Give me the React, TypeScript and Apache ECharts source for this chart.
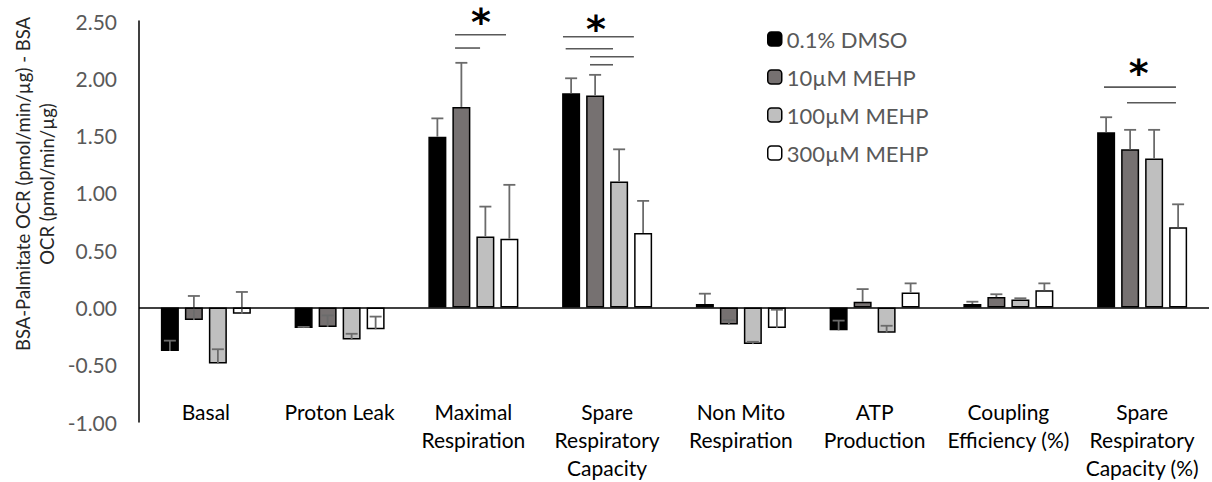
import React, { useEffect, useRef } from "react";
import * as echarts from "echarts";

const categories = [
  "Basal",
  "Proton Leak",
  "Maximal\nRespiration",
  "Spare\nRespiratory\nCapacity",
  "Non Mito\nRespiration",
  "ATP\nProduction",
  "Coupling\nEfficiency (%)",
  "Spare\nRespiratory\nCapacity (%)",
];

const seriesNames = ["0.1% DMSO", "10µM MEHP", "100µM MEHP", "300µM MEHP"];

const dmso = [-0.38, -0.18, 1.49, 1.87, 0.03, -0.2, 0.03, 1.53];
const dmsoErr = [0.09, 0.01, 0.16, 0.13, 0.09, 0.085, 0.02, 0.13];
const mehp10 = [-0.11, -0.17, 1.75, 1.85, -0.15, 0.05, 0.09, 1.38];
const mehp10Err = [0.21, 0.1, 0.385, 0.18, 0.04, 0.11, 0.025, 0.17];
const mehp100 = [-0.49, -0.28, 0.62, 1.1, -0.32, -0.22, 0.07, 1.3];
const mehp100Err = [0.125, 0.05, 0.26, 0.28, 0.02, 0.06, 0.01, 0.25];
const mehp300 = [-0.055, -0.19, 0.6, 0.65, -0.18, 0.13, 0.15, 0.7];
const mehp300Err = [0.19, 0.11, 0.47, 0.28, 0.16, 0.08, 0.06, 0.2];

const yTicks = { min: -1, max: 2.5, interval: 0.5 };

// significance brackets: [xStart, xEnd, y] in category units (0..8) and y value
const sigLines = [
  [2.363, 2.744, 2.38],
  [2.363, 2.55, 2.264],
  [3.17, 3.7, 2.363],
  [3.19, 3.544, 2.258],
  [3.372, 3.7, 2.188],
  [3.372, 3.544, 2.118],
  [7.215, 7.753, 1.923],
  [7.387, 7.753, 1.786],
];
// asterisk positions: [x, y]
const stars = [
  [2.557, 2.548],
  [3.417, 2.483],
  [7.474, 2.096],
];

const values = [dmso, mehp10, mehp100, mehp300];
const errors = [dmsoErr, mehp10Err, mehp100Err, mehp300Err];
const fills = ["#000000", "#767171", "#BFBFBF", "#FFFFFF"];

const FONT = "Lato";
const BAR_W = 18;
const GAP = 0.3333;
const PITCH = BAR_W * (1 + GAP);
const ERR_COLOR = "#6b6b6b";

export default function App() {
  const ref = useRef<HTMLDivElement>(null);
  useEffect(() => {
    if (!ref.current) return;
    const chart = echarts.init(ref.current, null, { renderer: "svg" });

    const barSeries = values.map((vals, i) => ({
      type: "bar",
      name: seriesNames[i],
      xAxisIndex: 0,
      yAxisIndex: 0,
      data: vals,
      barWidth: BAR_W,
      barGap: `${GAP * 100}%`,
      itemStyle: { color: fills[i], borderColor: "#000", borderWidth: 1.5 },
      emphasis: { disabled: true },
      ...(i === 0
        ? {
            markLine: {
              silent: true,
              symbol: ["none", "none"],
              label: { show: false },
              lineStyle: { color: "#000", width: 1.5, type: "solid" },
              data: [{ yAxis: 0 }],
              z: 20,
            },
          }
        : {}),
    }));

    const errSeries = values.map((vals, i) => ({
      type: "custom",
      xAxisIndex: 0,
      yAxisIndex: 0,
      silent: true,
      z: 10,
      data: vals.map((v, k) => [k, v, errors[i][k]]),
      renderItem: (params: any, api: any) => {
        const k = api.value(0);
        const v = api.value(1);
        const e = api.value(2);
        const p0 = api.coord([k, v]);
        const p1 = api.coord([k, v + e]);
        const x = p0[0] + (i - 1.5) * PITCH;
        const style = { stroke: ERR_COLOR, lineWidth: 1.8 };
        return {
          type: "group",
          children: [
            { type: "line", shape: { x1: x, y1: p0[1], x2: x, y2: p1[1] }, style },
            { type: "line", shape: { x1: x - 6, y1: p1[1], x2: x + 6, y2: p1[1] }, style },
          ],
        };
      },
    }));

    const sigSeries = {
      type: "custom",
      xAxisIndex: 1,
      yAxisIndex: 0,
      silent: true,
      clip: false,
      z: 10,
      data: sigLines,
      renderItem: (params: any, api: any) => {
        const a = api.coord([api.value(0), api.value(2)]);
        const b = api.coord([api.value(1), api.value(2)]);
        return {
          type: "line",
          shape: { x1: a[0], y1: a[1], x2: b[0], y2: b[1] },
          style: { stroke: "#595959", lineWidth: 1.6 },
        };
      },
    };

    const starSeries = {
      type: "custom",
      xAxisIndex: 1,
      yAxisIndex: 0,
      silent: true,
      clip: false,
      z: 12,
      data: stars,
      renderItem: (params: any, api: any) => {
        const p = api.coord([api.value(0), api.value(1)]);
        return {
          type: "text",
          x: p[0],
          y: p[1] + 6,
          style: {
            text: "*",
            fill: "#000",
            font: `bold 38px 'DejaVu Sans'`,
            align: "center",
            verticalAlign: "middle",
          },
        };
      },
    };

    chart.setOption({
      animation: false,
      grid: { left: 139, right: 3, top: 21, bottom: 60, containLabel: false },
      legend: {
        orient: "vertical",
        left: 767,
        top: 27,
        padding: 0,
        itemWidth: 14,
        itemHeight: 14,
        itemGap: 14,
        data: seriesNames,
        textStyle: { color: "#595959", fontSize: 22, fontFamily: FONT, lineHeight: 24 },
        itemStyle: { borderColor: "#000", borderWidth: 1.5 },
        selectedMode: false,
      },
      xAxis: [
        {
          type: "category",
          data: categories,
          position: "bottom",
          axisLine: { show: false },
          axisTick: { show: false },
          splitLine: { show: false },
          axisLabel: {
            interval: 0,
            color: "#000",
            fontSize: 21,
            fontFamily: FONT,
            lineHeight: 28,
            margin: -25,
          },
        },
        { type: "value", min: 0, max: 8, show: false },
      ],
      yAxis: {
        type: "value",
        min: yTicks.min,
        max: yTicks.max,
        interval: yTicks.interval,
        axisLine: { show: true, onZero: false, lineStyle: { color: "#000", width: 1.5 } },
        axisTick: { show: false },
        splitLine: { show: false },
        axisLabel: {
          color: "#595959",
          fontSize: 21,
          fontFamily: FONT,
          margin: 22,
          formatter: (v: number) => v.toFixed(2),
        },
      },
      graphic: [
        {
          type: "text",
          x: 35,
          y: 184,
          rotation: Math.PI / 2,
          style: {
            text: "BSA-Palmitate OCR (pmol/min/µg) - BSA\nOCR (pmol/min/µg)",
            fill: "#262626",
            font: `18.5px ${FONT}`,
            lineHeight: 24,
            align: "center",
            verticalAlign: "middle",
          },
        },
      ],
      series: [...barSeries, ...errSeries, sigSeries, starSeries],
    });
    return () => chart.dispose();
  }, []);
  return (
    <div
      ref={ref}
      style={{ position: "fixed", left: 0, top: 0, width: 1212, height: 482, background: "#fff" }}
    />
  );
}
